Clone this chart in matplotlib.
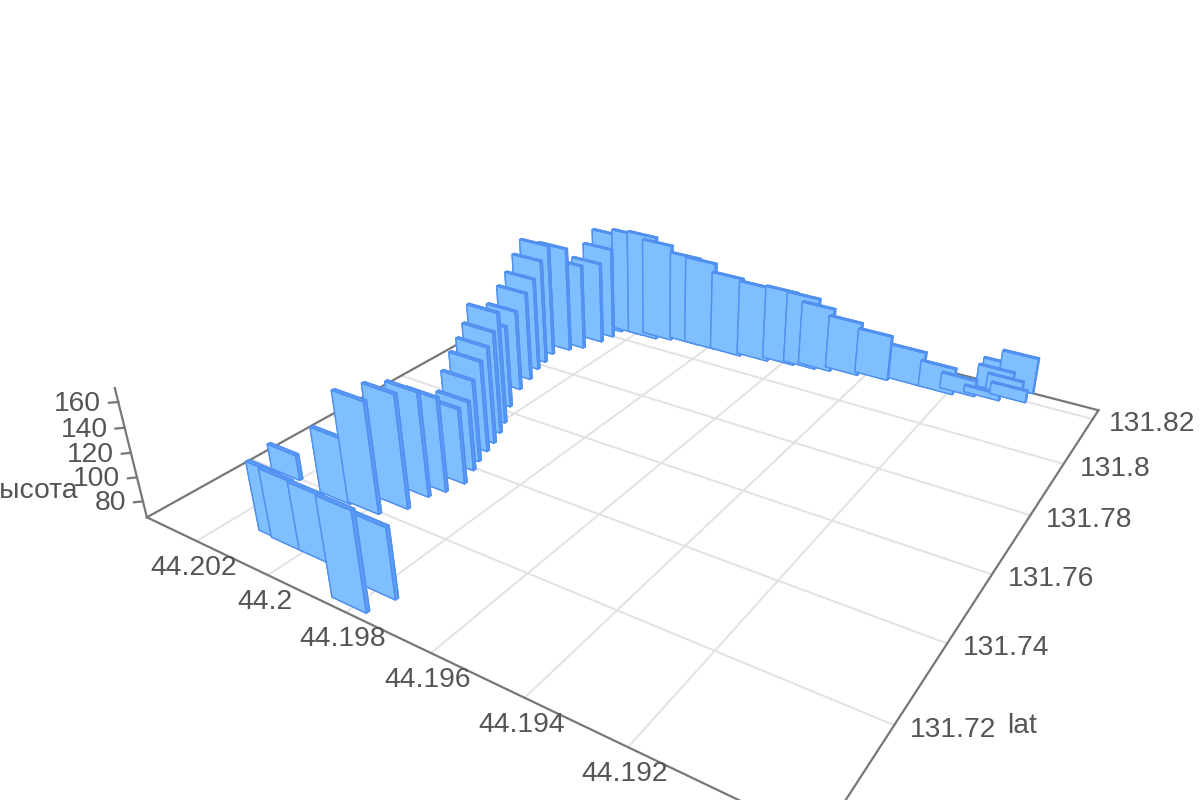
import numpy as np
import matplotlib
matplotlib.use('Agg')
import matplotlib.pyplot as plt
from mpl_toolkits.mplot3d import proj3d

plt.rcParams['font.family'] = ['Liberation Sans', 'DejaVu Sans']

# данные столбцов
lon = [44.20085, 44.20046, 44.19969, 44.19810, 44.19793, 44.20240, 44.20086, 44.20012, 44.19976, 44.19971,
       44.19954, 44.19942, 44.19960, 44.19974, 44.19986, 44.19996, 44.20013, 44.20033, 44.20070, 44.20104,
       44.20116, 44.20133, 44.20141, 44.20153, 44.20131, 44.20108, 44.20090, 44.20083, 44.20081, 44.20028,
       44.19982, 44.19946, 44.19871, 44.19827, 44.19751, 44.19680, 44.19615, 44.19561, 44.19525, 44.19459,
       44.19387, 44.19305, 44.19229, 44.19182, 44.19127, 44.19071, 44.19113, 44.19113, 44.19088, 44.19072]
lat = [131.7053, 131.7050, 131.7050, 131.6990, 131.7038, 131.7200, 131.7193, 131.7197, 131.7236, 131.7284,
       131.7313, 131.7352, 131.7395, 131.7425, 131.7461, 131.7492, 131.7528, 131.7564, 131.7621, 131.7690,
       131.7737, 131.7783, 131.7818, 131.7858, 131.7894, 131.7919, 131.7966, 131.8001, 131.8034, 131.8044,
       131.8045, 131.8058, 131.8069, 131.8070, 131.8071, 131.8081, 131.8094, 131.8102, 131.8111, 131.8125,
       131.8138, 131.8151, 131.8151, 131.8167, 131.8177, 131.8245, 131.8247, 131.8216, 131.8214, 131.8198]
height = [122.7, 122.4, 121.1, 144.3, 122.7, 88.0, 121.3, 158.1, 160.1, 153.2,
          144.7, 129.7, 125.5, 136.1, 144.4, 150.1, 155.2, 163.8, 139.2, 138.7,
          146.9, 151.5, 162.4, 169.8, 163.8, 146.1, 142.9, 152.1, 161.3, 163.8,
          165.2, 158.4, 150.2, 148.9, 140.6, 136.4, 135.2, 133.0, 125.3, 115.7,
          107.8, 98.1, 90.3, 80.8, 72.2, 98.8, 87.6, 86.5, 80.8, 76.9]

x_ticks = [44.202, 44.2, 44.198, 44.196, 44.194, 44.192]
x_labels = ['44.202', '44.2', '44.198', '44.196', '44.194', '44.192']
lat_ticks = [131.82, 131.8, 131.78, 131.76, 131.74, 131.72]
z_ticks = [80, 100, 120, 140, 160]

xmax, xmin = 44.203491, 44.188760
lmin, lmax = 131.697109, 131.824272
zmin, zmax = 66.436375, 170.653392

bar_dx = 0.00085
bar_dy = 0.0007
face_color = '#80bfff'
side_color = '#5c9cf6'
edge_color = '#5090f0'
grid_color = '#e2e2e2'
axis_color = '#777777'
text_color = '#555555'

# камера подобрана под картинку, оси шире самого рисунка
az = -57.371552
W, cx, cy = 975.350144, 645.096182, 386.517312
fig = plt.figure(figsize=(12, 8), dpi=100)
ax = fig.add_axes([(cx - W / 2) / 1200, (cy - W / 2) / 800, W / 1200, W / 800], projection='3d',
                  computed_zorder=False)
ax.set_axis_off()
ax.view_init(28.696341, az)
ax.set_proj_type('persp', focal_length=0.225982)
ax.set_box_aspect((1, 0.991345, 0.197355))


def set_limits():
    ax.set_xlim(xmax, xmin, view_margin=0)
    ax.set_ylim(lmin, lmax, view_margin=0)
    ax.set_zlim(zmin, zmax, view_margin=0)


set_limits()

# сетка на полу
for t in x_ticks:
    ax.plot([t, t], [lmin, lmax], [zmin, zmin], color=grid_color, lw=1.4, clip_on=False, zorder=1)
for t in lat_ticks:
    ax.plot([xmin, xmax], [t, t], [zmin, zmin], color=grid_color, lw=1.4, clip_on=False, zorder=1)

# рамка пола и ось высоты
for xs, ys in [([xmax, xmin], [lmin, lmin]), ([xmin, xmin], [lmin, lmax]),
               ([xmax, xmax], [lmin, lmax]), ([xmax, xmin], [lmax, lmax])]:
    ax.plot(xs, ys, [zmin, zmin], color=axis_color, lw=1.6, clip_on=False, zorder=2)
ax.plot([xmax, xmax], [lmin, lmin], [zmin, zmax], color=axis_color, lw=1.6, clip_on=False, zorder=2)
for t in z_ticks:
    ax.plot([xmax, xmax + 0.00012], [lmin, lmin - 0.001], [t, t], color=axis_color, lw=1.6,
            clip_on=False, zorder=2)

# столбцы от дальних к ближним
depth = [(xmax - a) / (xmax - xmin) * np.cos(np.radians(az))
         + (b - lmin) / (lmax - lmin) * np.sin(np.radians(az)) for a, b in zip(lon, lat)]
for i, k in enumerate(np.argsort(depth)):
    colors = [side_color, side_color, face_color, face_color, side_color, side_color]
    ax.bar3d(lon[k] - bar_dx / 2, lat[k] - bar_dy / 2, zmin, bar_dx, bar_dy, height[k] - zmin,
             color=colors, edgecolor=edge_color, linewidth=1.0, shade=False, zorder=10 + i)

set_limits()
ax.apply_aspect()
M = ax.get_proj()


def label(text, x, y, z, dx, dy, ha):
    X, Y, _ = proj3d.proj_transform(np.array([x]), np.array([y]), np.array([z]), M)
    ax.annotate(text, (X[0], Y[0]), xytext=(dx, dy), textcoords='offset pixels', ha=ha, va='center',
                fontsize=20.3, color=text_color, annotation_clip=False, zorder=200)


for t, s in zip(x_ticks, x_labels):
    label(s, t, lmin, zmin, -3, -27, 'center')
for t in lat_ticks:
    label(str(t), xmin, t, zmin, 16, -5, 'left')
for t in z_ticks:
    label(str(t), xmax, lmin, t, -17, -2, 'right')
label('lat', xmin, 131.72, zmin, 113, -1, 'left')
label('высота', xmax, lmin, 90, -62, -2, 'right')

fig.savefig('out.png', dpi=100)
